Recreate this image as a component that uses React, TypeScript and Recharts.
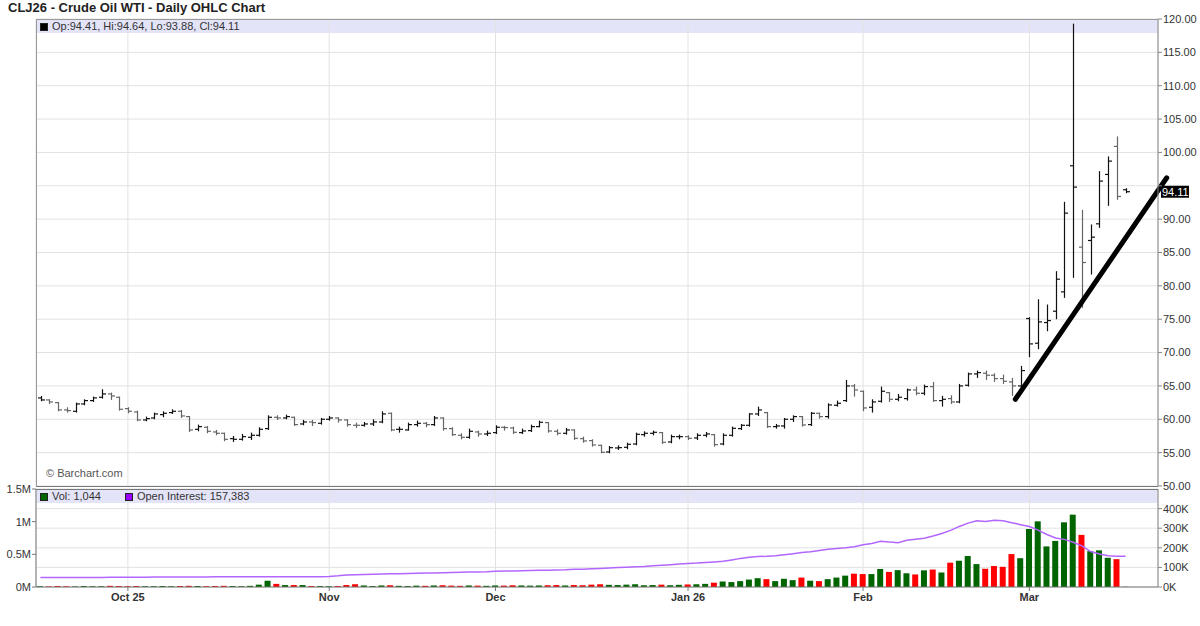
import React from "react";
import {
  ComposedChart,
  Bar,
  Line,
  XAxis,
  YAxis,
  CartesianGrid,
  ReferenceLine,
  Cell,
} from "recharts";

// Daily OHLC for CLJ26, one entry per trading day (mid Sep 2025 -> Mar 17 2026)
const OPEN = [
  63.2, 62.9, 62.5, 61.4, 61.2, 62.3, 62.8, 63.3, 63.8, 63.3,
  61.6, 61.1, 59.9, 60.2, 60.7, 61.0, 61.2, 60.4, 58.5, 58.8,
  58.1, 57.9, 57.1, 57.0, 57.3, 57.6, 58.6, 60.3, 60.2, 60.3,
  59.3, 59.6, 59.4, 60.0, 60.2, 59.9, 59.1, 59.1, 59.3, 59.6,
  60.9, 58.5, 58.4, 59.2, 59.4, 59.2, 60.2, 58.6, 57.6, 57.3,
  58.1, 57.8, 58.0, 58.8, 58.7, 58.0, 58.3, 58.9, 59.5, 58.2,
  57.9, 58.4, 57.1, 56.8, 56.1, 55.1, 55.7, 55.8, 56.3, 57.7,
  57.9, 58.0, 56.6, 57.4, 57.4, 57.2, 57.6, 57.7, 56.3, 57.6,
  58.6, 59.1, 60.8, 61.0, 58.9, 59.0, 60.0, 60.4, 59.2, 60.9,
  60.4, 62.1, 62.8, 65.0, 64.2, 61.8, 62.7, 64.0, 63.0, 63.1,
  64.4, 63.9, 64.9, 62.8, 63.1, 62.6, 65.1, 66.8, 66.9, 66.6,
  66.1, 65.6, 65.0, 75.1, 71.4, 74.5, 76.2, 79.1, 98.0, 85.8,
  86.8, 89.3, 96.7, 100.9, 94.41,
];
const HIGH = [
  63.5, 63.0, 62.6, 61.8, 62.5, 63.0, 63.4, 64.5, 64.0, 63.4,
  61.8, 61.3, 60.4, 61.0, 61.2, 61.5, 61.4, 60.5, 59.2, 59.0,
  58.4, 58.0, 57.5, 57.8, 58.0, 58.8, 60.6, 60.6, 60.7, 60.4,
  59.9, 59.9, 60.2, 60.5, 60.3, 60.0, 59.5, 59.6, 60.0, 61.2,
  61.0, 58.9, 59.5, 59.8, 59.6, 60.5, 60.3, 58.8, 57.9, 58.6,
  58.3, 58.3, 59.1, 59.0, 58.9, 58.6, 59.2, 59.8, 59.6, 58.5,
  58.7, 58.5, 57.4, 57.0, 56.2, 56.0, 56.1, 56.5, 58.0, 58.2,
  58.3, 58.1, 57.7, 57.7, 57.6, 57.9, 58.1, 57.8, 57.9, 58.9,
  59.3, 60.9, 61.9, 61.1, 59.3, 60.2, 60.6, 60.5, 61.1, 61.0,
  62.4, 62.8, 65.9, 65.3, 64.3, 63.0, 64.9, 64.1, 63.8, 64.6,
  64.9, 65.2, 65.6, 63.5, 63.6, 65.3, 67.0, 67.3, 67.3, 66.9,
  66.7, 66.2, 68.0, 75.3, 78.0, 77.2, 82.2, 92.6, 119.3, 91.4,
  89.2, 97.2, 99.4, 102.4, 94.64,
];
const LOW = [
  62.7, 62.3, 61.2, 61.0, 61.0, 62.1, 62.6, 63.1, 62.9, 61.3,
  60.9, 59.7, 59.7, 60.0, 60.3, 60.8, 60.2, 58.1, 58.2, 57.9,
  57.6, 56.7, 56.6, 56.8, 56.9, 57.4, 58.4, 59.9, 60.0, 59.0,
  59.1, 59.0, 59.2, 59.8, 59.5, 58.9, 58.7, 58.9, 59.0, 59.4,
  58.2, 58.0, 58.3, 58.9, 58.8, 59.0, 58.3, 57.5, 57.0, 57.1,
  57.4, 57.5, 57.8, 58.3, 57.8, 57.8, 58.1, 58.8, 58.0, 57.6,
  57.7, 56.9, 56.5, 55.9, 54.9, 54.9, 55.4, 55.5, 56.1, 57.4,
  57.6, 56.3, 56.4, 57.0, 56.9, 56.9, 57.3, 55.9, 56.1, 57.4,
  58.4, 58.9, 60.5, 58.7, 58.6, 58.6, 59.6, 58.9, 59.0, 60.1,
  60.1, 61.9, 62.6, 63.4, 61.2, 61.0, 62.5, 62.6, 62.7, 62.8,
  63.6, 63.6, 62.6, 61.9, 62.3, 62.4, 64.9, 66.2, 65.9, 65.6,
  65.3, 63.5, 64.6, 69.3, 70.5, 73.2, 75.0, 78.2, 81.2, 76.7,
  81.7, 88.7, 92.0, 92.9, 93.88,
];
const CLOSE = [
  62.9, 62.6, 61.4, 61.3, 62.3, 62.8, 63.2, 63.8, 63.5, 61.5,
  61.2, 59.9, 60.1, 60.8, 60.9, 61.2, 60.5, 58.4, 58.9, 58.2,
  57.9, 57.0, 57.0, 57.4, 57.6, 58.5, 60.3, 60.2, 60.4, 59.2,
  59.6, 59.5, 60.0, 60.2, 59.9, 59.2, 59.1, 59.3, 59.6, 60.8,
  58.4, 58.5, 59.2, 59.4, 59.2, 60.2, 58.6, 57.7, 57.3, 58.2,
  57.8, 57.9, 58.8, 58.75, 58.05, 58.25, 58.9, 59.55, 58.25, 57.9,
  58.4, 57.15, 56.75, 56.15, 55.05, 55.75, 55.75, 56.25, 57.75, 57.9,
  58.05, 56.55, 57.4, 57.4, 57.15, 57.6, 57.8, 56.2, 57.6, 58.65,
  59.1, 60.8, 61.4, 58.9, 59.0, 60.0, 60.4, 59.15, 60.9, 60.4,
  62.15, 62.4, 65.0, 64.4, 61.7, 62.6, 64.2, 63.0, 63.3, 64.4,
  63.9, 64.9, 62.8, 63.0, 62.6, 65.0, 66.8, 67.0, 66.6, 66.1,
  65.7, 65.0, 67.3, 71.3, 74.6, 74.8, 81.0, 90.9, 94.8, 83.5,
  87.3, 95.7, 98.7, 93.4, 94.11,
];

// volume and open interest, in thousands of contracts
const VOLUME_K = [
  4, 3, 5, 4, 3, 5, 4, 4, 6, 5,
  4, 5, 4, 4, 5, 4, 5, 6, 5, 4,
  5, 6, 5, 4, 6, 12, 32, 16, 10, 10,
  10, 5, 5, 4, 5, 10, 14, 8, 5, 8,
  9, 6, 5, 7, 6, 8, 9, 7, 6, 8,
  7, 6, 8, 7, 9, 8, 7, 8, 9, 10,
  8, 10, 9, 12, 14, 11, 10, 12, 14, 9,
  10, 12, 9, 11, 13, 14, 16, 22, 28, 25,
  30, 38, 45, 40, 30, 42, 35, 48, 32, 30,
  40, 48, 58, 68, 66, 66, 92, 77, 86, 70,
  64, 85, 89, 74, 124, 134, 158, 117, 93, 107,
  103, 168, 147, 296, 335, 207, 235, 330, 369, 266,
  183, 187, 149, 142, 1.044,
];
const OPEN_INTEREST_K = [
  48, 48, 48, 48.5, 49, 49, 49, 49, 49.5, 50,
  50, 50, 50, 50.5, 51, 51, 51, 51, 51.5, 51.5,
  52, 52, 52, 52, 52, 52, 52, 52, 52, 52,
  52, 52, 52.5, 54, 57, 61, 63, 64, 65, 66,
  67, 68, 69, 70, 71, 72, 73, 74, 75, 76,
  77, 78, 80, 81, 82, 83, 84, 85, 86, 87,
  88, 90, 91, 93, 95, 97, 99, 101, 103, 105,
  108, 111, 114, 117, 120, 122, 125, 128, 131, 138,
  146, 152, 155, 157, 160, 165, 170, 176, 180, 186,
  192, 196, 200, 205, 216, 222, 233, 229, 226, 238,
  244, 249, 260, 273, 289, 309, 326, 338, 334, 341,
  338, 328, 318, 309, 290, 268, 250, 243, 228, 210,
  181, 168, 160, 157, 157.383,
];

// trading-day index of the first session of each month
const MONTH_TICKS = [10, 33, 52, 74, 94, 113];
const MONTH_LABELS = ["Oct 25", "Nov", "Dec", "Jan 26", "Feb", "Mar"];
const PRICE_TICKS = [50, 55, 60, 65, 70, 75, 80, 85, 90, 95, 100, 105, 110, 115, 120];
const VOL_LEFT_TICKS = [0, 500000, 1000000, 1500000];
const VOL_RIGHT_TICKS = [0, 100000, 200000, 300000, 400000];
const TREND_LINE = [
  { x: 111.4, y: 63.0 },
  { x: 128.7, y: 96.2 },
];
const X_DOMAIN: [number, number] = [-0.5, 127.7];

const LAST = CLOSE.length - 1;
const UP_GREEN = "#006400";
const DOWN_RED = "#ff0000";
const OI_PURPLE = "#b266ff";
const GRID = "#e2e2e2";
const BAND = "#e4e4f8";

const rows = CLOSE.map((c, i) => ({
  i,
  range: [LOW[i], HIGH[i]],
  open: OPEN[i],
  high: HIGH[i],
  low: LOW[i],
  close: c,
  up: i === 0 ? true : c >= CLOSE[i - 1],
  vol: VOLUME_K[i] * 1000,
  oi: OPEN_INTEREST_K[i] * 1000,
}));

// eslint-disable-next-line @typescript-eslint/no-explicit-any
function OhlcShape(props: any) {
  const { x, y, width, height, payload } = props;
  if (x == null || y == null || !payload) return null;
  const top = Math.min(y, y + height);
  const bottom = Math.max(y, y + height);
  const span = payload.high - payload.low || 1;
  const toY = (v: number) => top + ((payload.high - v) / span) * (bottom - top);
  const cx = Math.round(x + width / 2) + 0.5;
  const yo = toY(payload.open);
  const yc = toY(payload.close);
  return (
    <g stroke={payload.up ? "#111" : "#666"} strokeWidth={1.2}>
      <line x1={cx} x2={cx} y1={top} y2={bottom} />
      <line x1={cx - 3.5} x2={cx} y1={yo} y2={yo} />
      <line x1={cx} x2={cx + 3.5} y1={yc} y2={yc} />
    </g>
  );
}

// eslint-disable-next-line @typescript-eslint/no-explicit-any
function LastPriceTag(props: any) {
  const vb = props.viewBox;
  if (!vb) return null;
  const x = vb.x + vb.width + 3;
  return (
    <g>
      <rect x={x} y={vb.y - 6} width={28} height={12} fill="#000" />
      <text x={x + 1} y={vb.y + 4} fill="#fff" fontSize={11}>
        {CLOSE[LAST].toFixed(2)}
      </text>
    </g>
  );
}

// price labels that would sit under the last-price tag are left blank
const fmtPrice = (v: number) =>
  Math.abs(v - CLOSE[LAST]) < 2 ? "" : v.toFixed(2);
const fmtK = (v: number) => `${Math.round(v / 1000)}K`;
const fmtM = (v: number) => (v === 0 ? "0M" : `${v / 1000000}M`);
const fmtMonth = (v: number) => MONTH_LABELS[MONTH_TICKS.indexOf(v)] ?? "";

const axisText = { fontSize: 11, fill: "#333" };

function Swatch({ color }: { color: string }) {
  return (
    <span
      style={{
        display: "inline-block",
        width: 8,
        height: 8,
        background: color,
        border: "1px solid #222",
        boxSizing: "border-box",
        marginRight: 4,
        verticalAlign: "-1px",
      }}
    />
  );
}

export default function App() {
  return (
    <div
      style={{
        position: "absolute",
        left: 0,
        top: 0,
        width: 1200,
        height: 626,
        background: "#fff",
        fontFamily: "'Liberation Sans', Arial, sans-serif",
        color: "#333",
        overflow: "hidden",
      }}>
      {/* legend bands (behind the plots) */}
      <div style={{ position: "absolute", left: 37, top: 20, width: 1121, height: 13, background: BAND }} />
      <div style={{ position: "absolute", left: 37, top: 490, width: 1121, height: 13, background: BAND }} />

      <div
        style={{
          position: "absolute",
          left: 8,
          top: 0,
          fontSize: 13,
          fontWeight: "bold",
          color: "#222",
          lineHeight: "16px",
        }}>
        CLJ26 - Crude Oil WTI - Daily OHLC Chart
      </div>

      {/* price panel */}
      <div style={{ position: "absolute", left: 0, top: 0 }}>
        <ComposedChart
          width={1200}
          height={497}
          data={rows}
          margin={{ top: 19, right: 0, bottom: 11, left: 36 }}>
          <CartesianGrid stroke={GRID} yAxisId="p" />
          <XAxis
            dataKey="i"
            type="number"
            domain={X_DOMAIN}
            ticks={MONTH_TICKS}
            allowDataOverflow
            hide
          />
          <YAxis
            yAxisId="p"
            orientation="right"
            domain={[50, 120]}
            ticks={PRICE_TICKS}
            interval={0}
            allowDataOverflow
            width={42}
            tick={axisText}
            tickSize={4}
            tickMargin={1}
            tickFormatter={fmtPrice}
            axisLine={{ stroke: "#888" }}
            tickLine={{ stroke: "#888" }}
          />
          <Bar
            yAxisId="p"
            dataKey="range"
            barSize={7}
            shape={(p: unknown) => <OhlcShape {...(p as object)} />}
            isAnimationActive={false}
          />
          <ReferenceLine
            yAxisId="p"
            y={CLOSE[LAST]}
            stroke="none"
            ifOverflow="visible"
            label={<LastPriceTag />}
          />
          <ReferenceLine
            yAxisId="p"
            segment={TREND_LINE}
            stroke="#000"
            strokeWidth={5}
            strokeLinecap="round"
            ifOverflow="visible"
          />
        </ComposedChart>
      </div>

      {/* volume / open interest panel */}
      <div style={{ position: "absolute", left: 0, top: 479 }}>
        <ComposedChart
          width={1200}
          height={148}
          data={rows}
          margin={{ top: 10, right: 0, bottom: 0, left: 0 }}>
          <CartesianGrid stroke={GRID} yAxisId="r" />
          <XAxis
            dataKey="i"
            type="number"
            domain={X_DOMAIN}
            ticks={MONTH_TICKS}
            interval={0}
            allowDataOverflow
            height={40}
            tickFormatter={fmtMonth}
            tick={{ fontSize: 11, fill: "#333", fontWeight: "bold" }}
            tickSize={4}
            axisLine={{ stroke: "#777" }}
            tickLine={{ stroke: "#777" }}
          />
          <YAxis
            yAxisId="l"
            orientation="left"
            type="number"
            domain={[0, 1500000]}
            ticks={VOL_LEFT_TICKS}
            interval={0}
            allowDataOverflow
            width={36}
            tick={axisText}
            tickSize={4}
            tickMargin={1}
            tickFormatter={fmtM}
            axisLine={{ stroke: "#777" }}
            tickLine={{ stroke: "#777" }}
          />
          <YAxis
            yAxisId="r"
            orientation="right"
            domain={[0, 500000]}
            ticks={VOL_RIGHT_TICKS}
            interval={0}
            allowDataOverflow
            width={42}
            tick={axisText}
            tickSize={4}
            tickMargin={1}
            tickFormatter={fmtK}
            axisLine={{ stroke: "#888" }}
            tickLine={{ stroke: "#888" }}
          />
          <Bar yAxisId="r" dataKey="vol" barSize={6} isAnimationActive={false}>
            {rows.map((r) => (
              <Cell key={r.i} fill={r.up ? UP_GREEN : DOWN_RED} />
            ))}
          </Bar>
          <Line
            yAxisId="r"
            dataKey="oi"
            type="linear"
            stroke={OI_PURPLE}
            strokeWidth={1.5}
            dot={false}
            isAnimationActive={false}
          />
        </ComposedChart>
      </div>

      {/* panel frames */}
      <div
        style={{
          position: "absolute",
          left: 36,
          top: 19,
          width: 1122,
          height: 468,
          borderTop: "1px solid #999",
          borderLeft: "1px solid #999",
          borderBottom: "1px solid #777",
          boxSizing: "border-box",
        }}
      />
      <div
        style={{
          position: "absolute",
          left: 36,
          top: 489,
          width: 1122,
          height: 1,
          background: "#777",
        }}
      />

      {/* legend texts (above the plots) */}
      <div
        style={{
          position: "absolute",
          left: 40,
          top: 20,
          fontSize: 11,
          lineHeight: "13px",
          color: "#333",
          whiteSpace: "nowrap",
        }}>
        <Swatch color="#000" />
        {`Op:${OPEN[LAST]}, Hi:${HIGH[LAST]}, Lo:${LOW[LAST]}, Cl:${CLOSE[LAST]}`}
      </div>
      <div
        style={{
          position: "absolute",
          left: 40,
          top: 490,
          fontSize: 11,
          lineHeight: "13px",
          color: "#333",
          whiteSpace: "nowrap",
        }}>
        <Swatch color={UP_GREEN} />
        {`Vol: ${Math.round(VOLUME_K[LAST] * 1000).toLocaleString("en-US")}`}
        <span style={{ display: "inline-block", width: 24 }} />
        <Swatch color="#9900ff" />
        {`Open Interest: ${Math.round(OPEN_INTEREST_K[LAST] * 1000).toLocaleString("en-US")}`}
      </div>
      <div
        style={{
          position: "absolute",
          left: 46,
          top: 467,
          fontSize: 11,
          color: "#555",
        }}>
        © Barchart.com
      </div>
    </div>
  );
}
